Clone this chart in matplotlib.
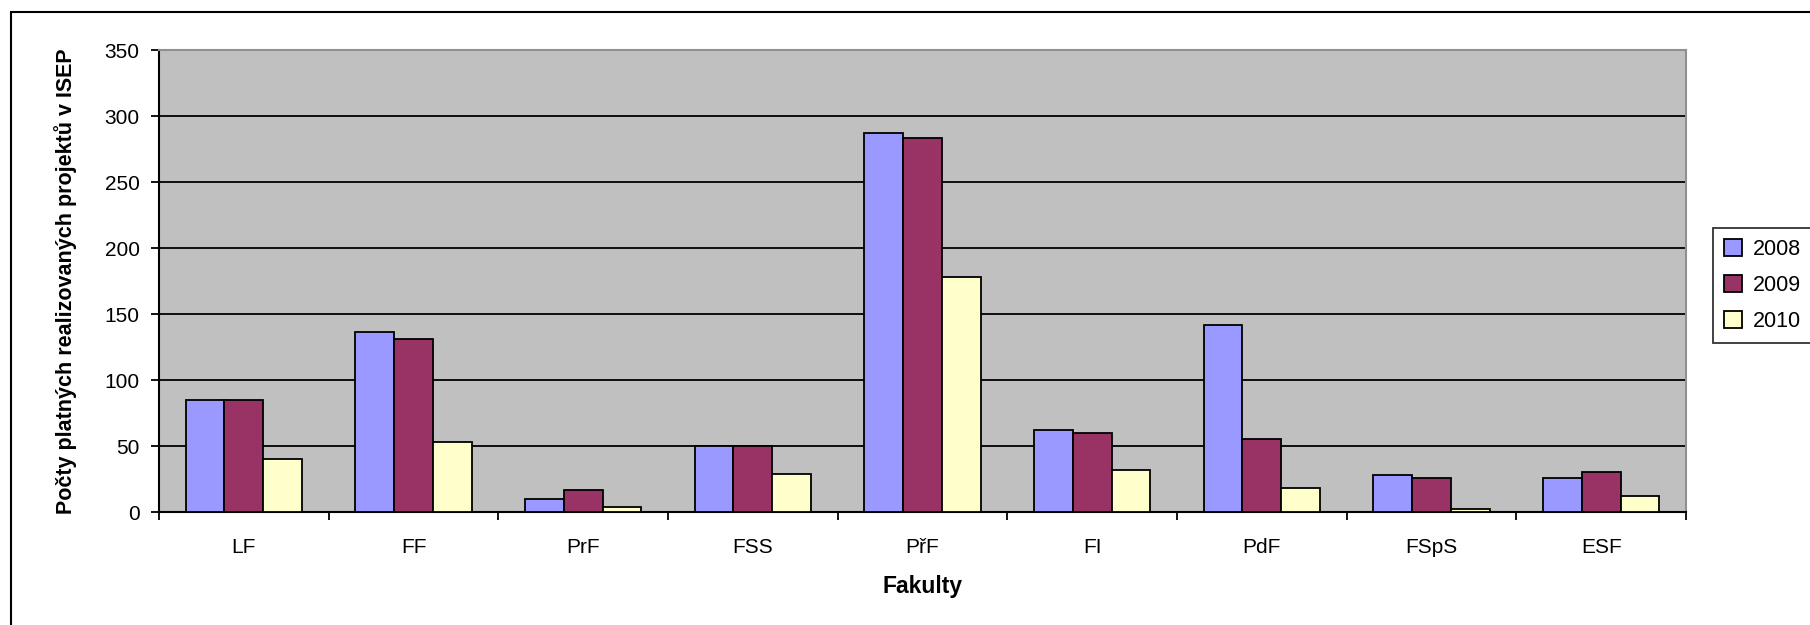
"""
Počty platných realizovaných projektů v ISEP podle fakult (2008-2010).
Output: out.png
"""
import numpy as np
import matplotlib
matplotlib.use("Agg")
import matplotlib.pyplot as plt
from matplotlib.patches import Rectangle

FACULTIES = ["LF", "FF", "PrF", "FSS", "PřF", "FI", "PdF", "FSpS", "ESF"]
YEARS = ["2008", "2009", "2010"]
VALUES_2008 = [85, 136, 10, 50, 287, 62, 142, 28, 26]
VALUES_2009 = [85, 131, 17, 50, 283, 60, 55, 26, 30]
VALUES_2010 = [40, 53, 4, 29, 178, 32, 18, 2, 12]

COLORS = ["#9999FF", "#993366", "#FFFFCC"]
YTICKS = [0, 50, 100, 150, 200, 250, 300, 350]

plt.rcParams["font.family"] = ["Liberation Sans", "DejaVu Sans"]

W, H = 1810, 625
fig = plt.figure(figsize=(W / 100, H / 100), dpi=100)
ax = fig.add_axes([159 / W, 1 - 512 / H, (1686 - 159) / W, (512 - 50) / H])

x = np.arange(len(FACULTIES))
bar_w = 0.228
for i, (vals, color, year) in enumerate(zip([VALUES_2008, VALUES_2009, VALUES_2010], COLORS, YEARS)):
    ax.bar(x + (i - 1) * bar_w, vals, bar_w, color=color, edgecolor="black",
           linewidth=1.3, label=year, zorder=3)

ax.set_facecolor("#C0C0C0")
ax.set_xlim(-0.5, len(FACULTIES) - 0.5)
ax.set_ylim(0, 350)
ax.set_yticks(YTICKS)
ax.grid(True, axis="y", color="black", linewidth=1.3, zorder=1)
ax.set_axisbelow(True)

# category ticks sit between groups, labels in the middle
ax.set_xticks(np.arange(len(FACULTIES) + 1) - 0.5)
ax.set_xticklabels([])
ax.set_xticks(x, minor=True)
ax.set_xticklabels(FACULTIES, minor=True, fontsize=15)
ax.tick_params(axis="x", which="major", direction="out", length=6, width=1.3)
ax.tick_params(axis="x", which="minor", length=0, pad=19)
ax.tick_params(axis="y", direction="out", length=6, width=1.3, labelsize=15, pad=8)

for side in ["top", "right"]:
    ax.spines[side].set_color("#909090")
    ax.spines[side].set_linewidth(1.5)
for side in ["left", "bottom"]:
    ax.spines[side].set_color("black")
    ax.spines[side].set_linewidth(1.5)

ax.set_xlabel("Fakulty", fontsize=16.5, fontweight="bold", labelpad=13)
ax.set_ylabel("Počty platných realizovaných projektů v ISEP", fontsize=15.5,
              fontweight="bold", labelpad=20)

leg = fig.legend(loc="upper left", bbox_to_anchor=(1713 / W, 1 - 228 / H),
                 fontsize=15.5, frameon=True, fancybox=False, edgecolor="black",
                 handlelength=0.85, handleheight=0.85, handletextpad=0.5,
                 labelspacing=0.7, borderpad=0.5, borderaxespad=0)
leg.get_frame().set_linewidth(1.3)

# outer chart frame, clipped at right and bottom
fig.patches.append(Rectangle((11 / W, -0.1), 1.2, 1 - 12 / H + 0.1, transform=fig.transFigure,
                             fill=False, edgecolor="black", linewidth=1.5))

fig.savefig("out.png", dpi=100)
plt.close(fig)
